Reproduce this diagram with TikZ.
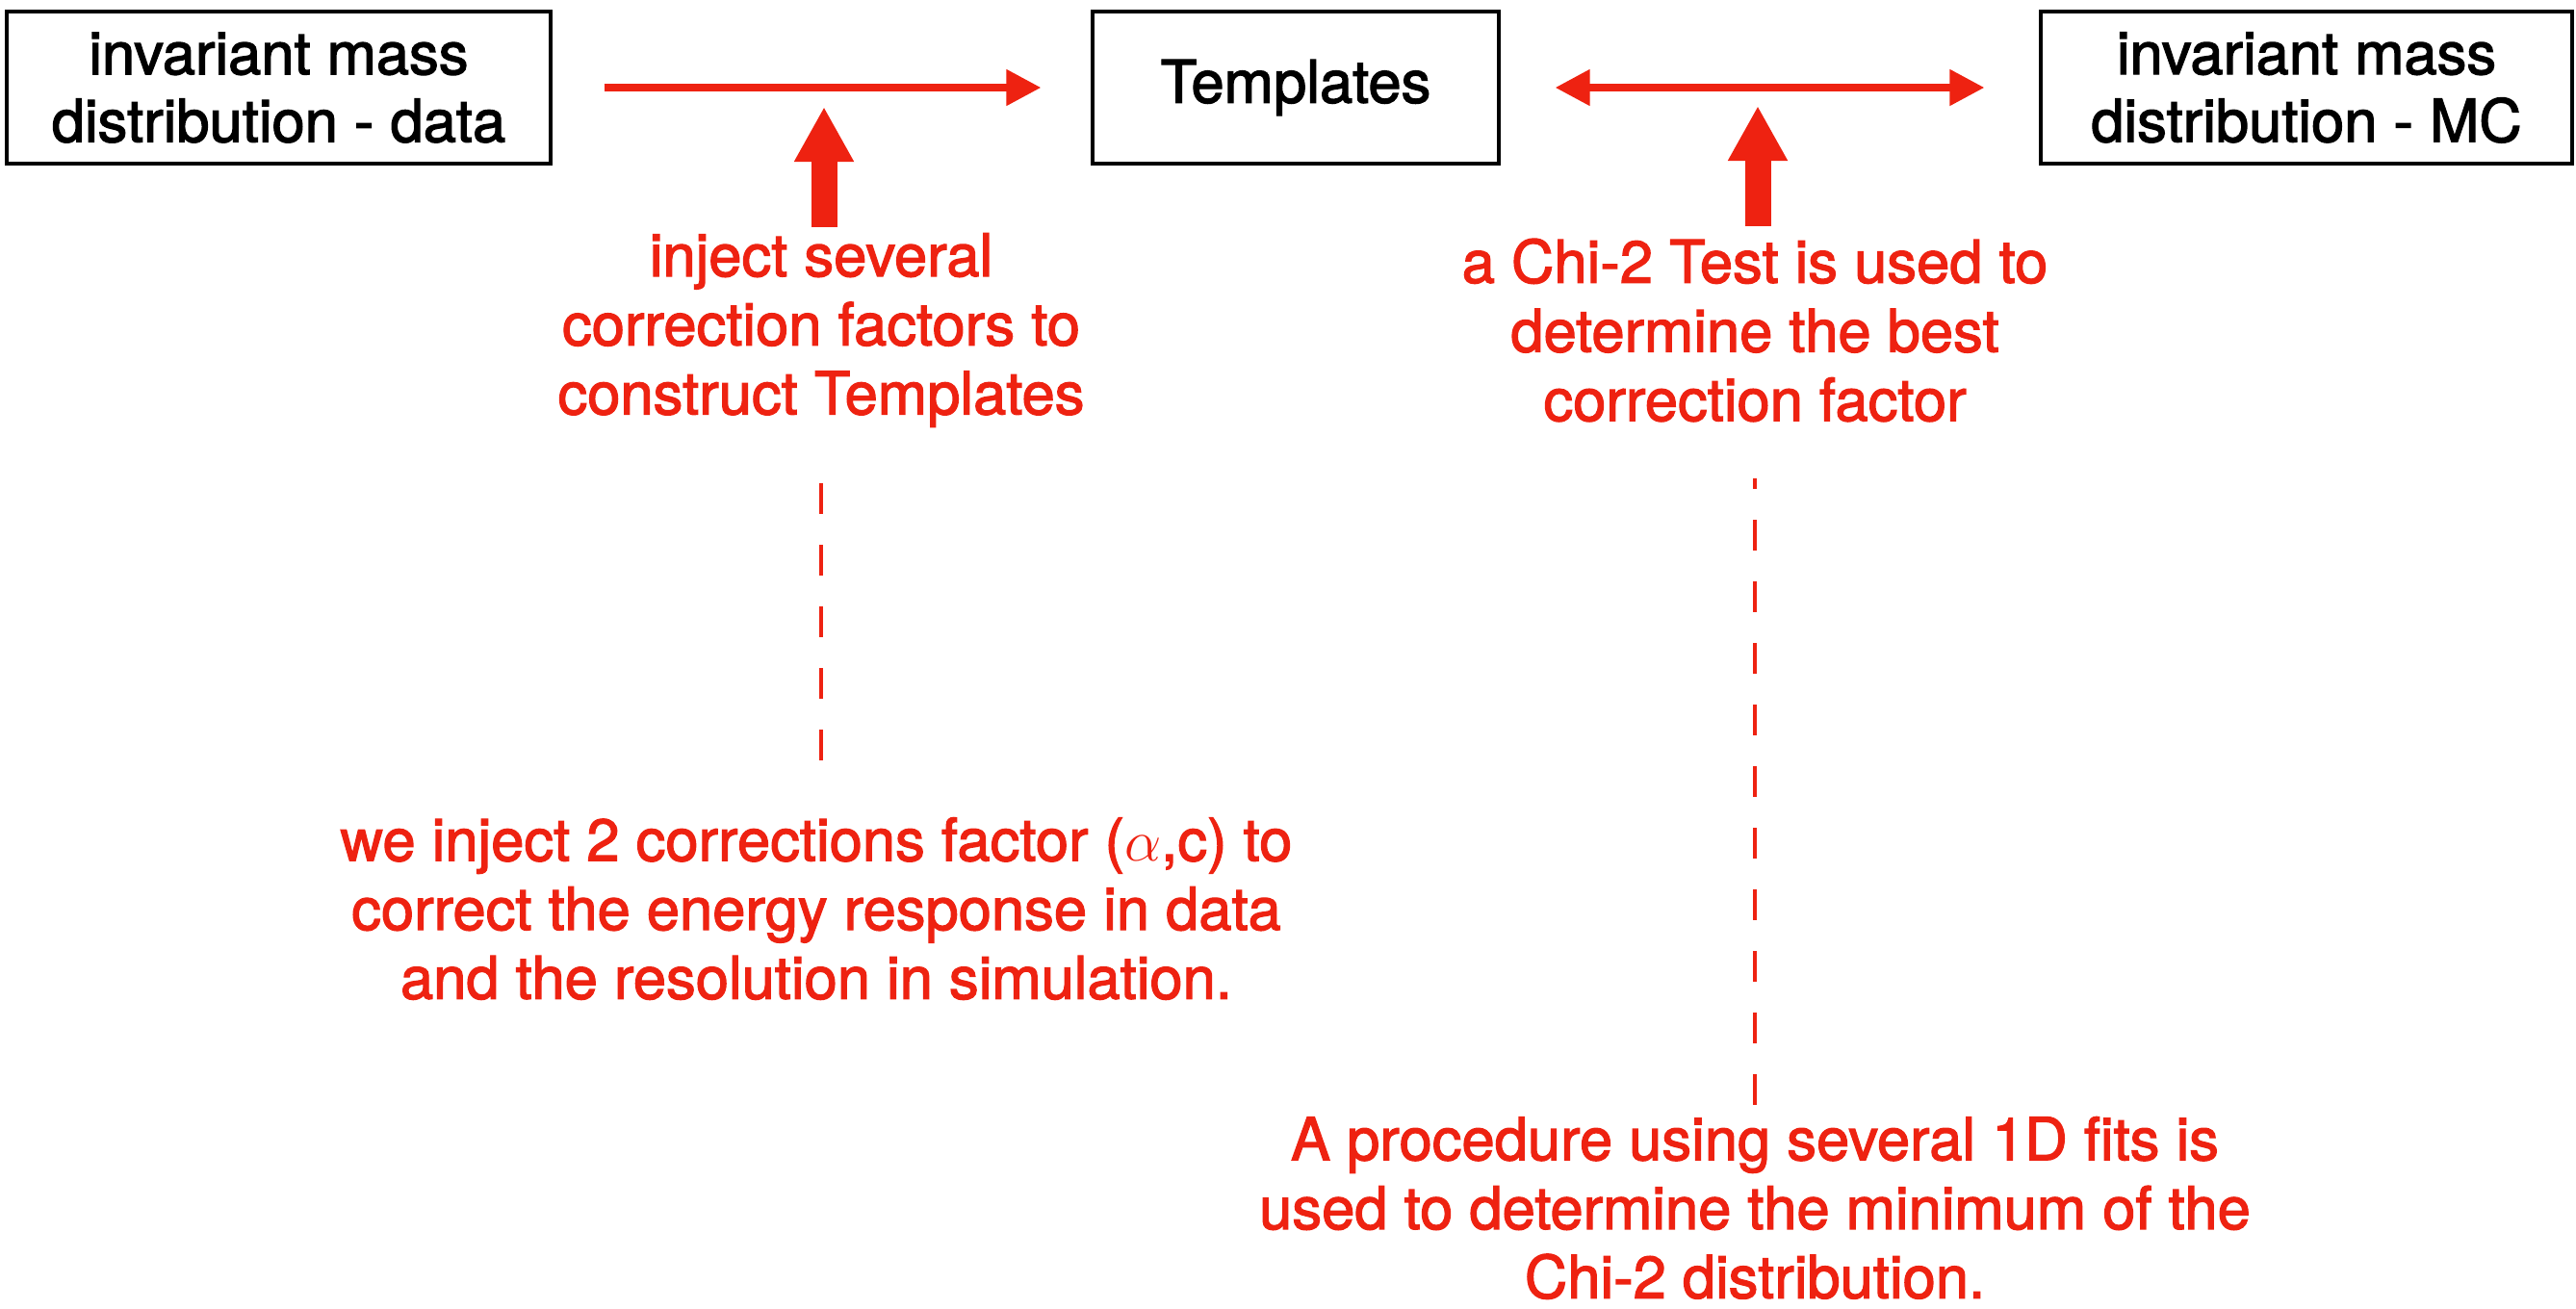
\documentclass[tikz,border=0pt]{standalone}
\usepackage{fontspec}
\setmainfont{TeX Gyre Heros}[FakeBold=2]
\usetikzlibrary{arrows.meta,positioning}
\definecolor{fitred}{RGB}{238,34,17}
\begin{document}
\begin{tikzpicture}[
    box/.style={draw, line width=0.9pt, minimum height=1.58cm, align=center, inner sep=0pt,
                font=\fontsize{17.5}{20}\selectfont},
    note/.style={text=fitred, align=center, inner sep=0pt, font=\fontsize{17.5}{20.4}\selectfont},
    flow/.style={fitred, line width=2.2pt, -{Triangle[length=0.36cm,width=0.36cm]}},
    fat/.style={fitred, line width=0.27cm, -{Triangle[length=0.57cm,width=0.58cm]}},
    dashline/.style={fitred, line width=1.4pt, dash pattern=on 0.32cm off 0.32cm}]
    \useasboundingbox (0,0) rectangle (26.76,-13.59);
    % Boxes
    \node[box, minimum width=5.65cm] (data) at (2.895,-0.91) {invariant mass\\distribution - data};
    \node[box, minimum width=4.22cm] (tmpl) at (13.46,-0.91) {Templates};
    \node[box, minimum width=5.52cm] (mc) at (23.96,-0.91) {invariant mass\\distribution - MC};
    % Notes
    \node[note] (inject) at (8.53,-3.43) {inject several\\correction factors to\\construct Templates};
    \node[note] (chi) at (18.23,-3.43) {a Chi-2 Test is used to\\determine the best\\correction factor};
    \node[note] (corr) at (8.48,-9.44) {we inject 2 corrections factor ($\alpha$,c) to\\correct the energy response in data\\and the resolution in simulation.};
    \node[note] (proc) at (18.23,-12.55) {A procedure using several 1D fits is\\used to determine the minimum of the\\Chi-2 distribution.};
    % Coordinate
    \coordinate (injtip) at (8.56,-1.11);
    \coordinate (injfoot) at (8.56,-2.36);
    \coordinate (chitip) at (18.26,-1.10);
    \coordinate (chifoot) at (18.26,-2.35);
    \coordinate (d1a) at (8.53,-5.02);
    \coordinate (d1b) at (8.53,-7.90);
    \coordinate (d2a) at (18.23,-4.97);
    \coordinate (d2b) at (18.23,-11.48);
    % Arrows
    \draw[flow, shorten <=0.54cm, shorten >=0.52cm] (data) -- (tmpl);
    \draw[flow, {Triangle[length=0.36cm,width=0.36cm]}-{Triangle[length=0.36cm,width=0.36cm]},
          shorten <=0.57cm, shorten >=0.57cm] (tmpl) -- (mc);
    \draw[fat] (injfoot) -- (injtip);
    \draw[fat] (chifoot) -- (chitip);
    % Dashed links
    \draw[dashline] (d1a) -- (d1b);
    \draw[dashline, dash phase=0.21cm] (d2a) -- (d2b);
\end{tikzpicture}
\end{document}
